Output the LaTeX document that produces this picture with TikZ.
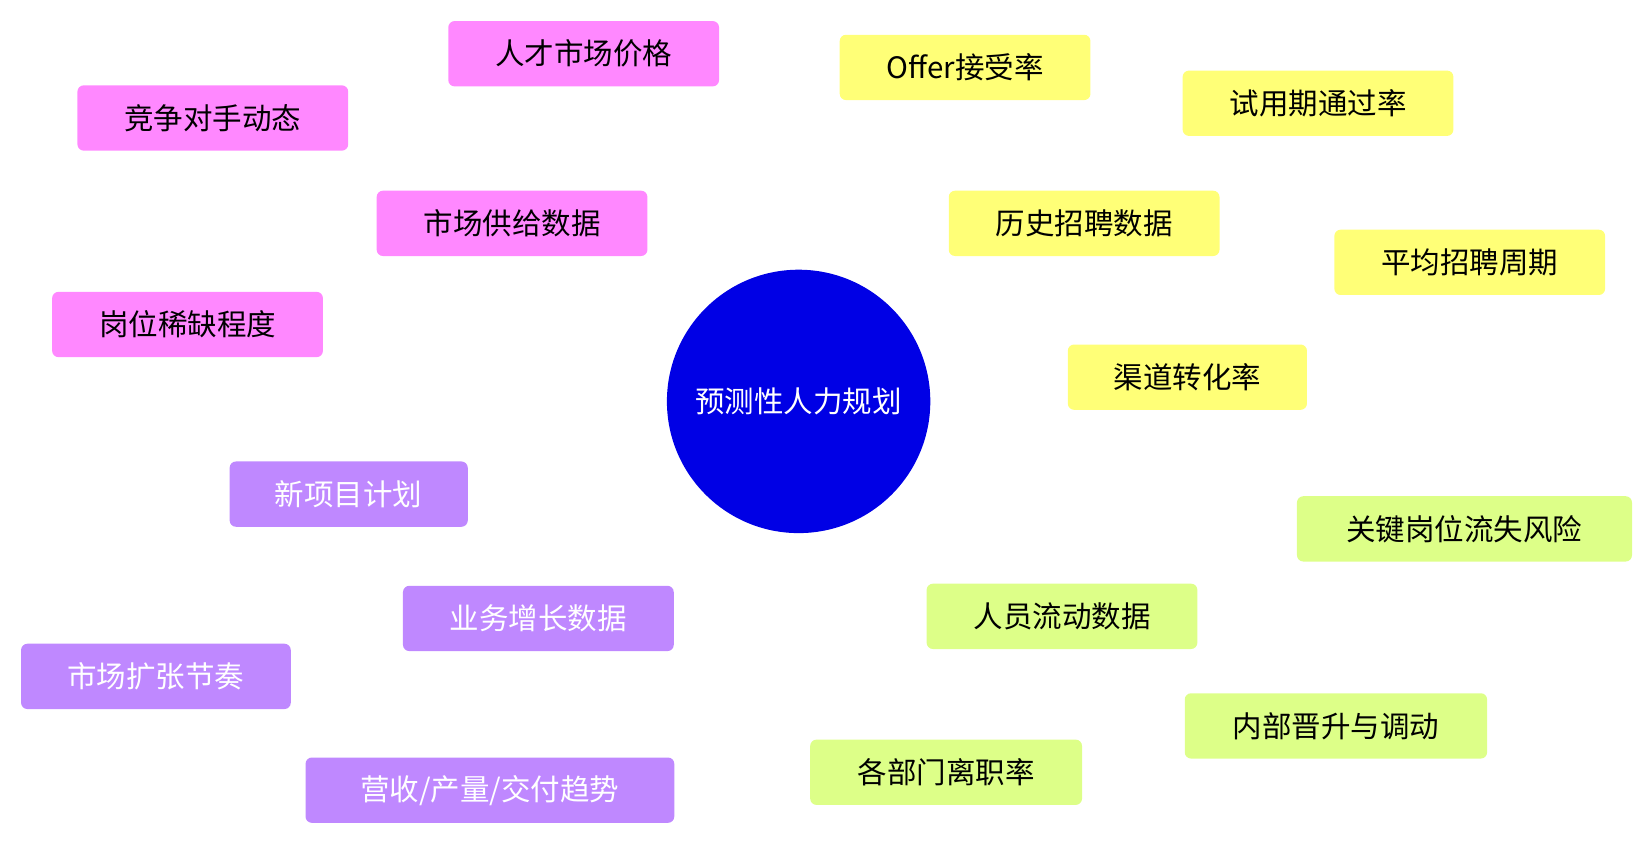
\documentclass[tikz,border=0pt]{standalone}
\usepackage{fontspec}
\setmainfont{Noto Sans CJK SC}
\begin{document}
\begin{tikzpicture}[x=0.5pt,y=-0.5pt,
  bx/.style={rounded corners=3pt,minimum height=31pt,inner sep=0pt,font=\fontsize{14}{16}\selectfont},
  pk/.style={bx,fill=pinkc},
  yl/.style={bx,fill=yelc},
  gr/.style={bx,fill=grc},
  pu/.style={bx,fill=purc,text=white},
]
\definecolor{pinkc}{HTML}{FF88FF}
\definecolor{yelc}{HTML}{FFFF77}
\definecolor{grc}{HTML}{DDFF88}
\definecolor{purc}{HTML}{BF88FF}
\definecolor{ulg}{HTML}{CCFFCC}
\definecolor{ull}{HTML}{AAAAFF}
\definecolor{ulp}{HTML}{D5C0FF}
\definecolor{ulpu}{HTML}{DDFFCC}
\useasboundingbox (0,0) rectangle (1568,801);
% nodes
\node[circle,fill=blue!90!black,minimum size=125pt,text=white,font=\fontsize{14}{16}\selectfont] (c) at (758,381) {预测性人力规划};
\node[pk,minimum width=128.5pt] (m) at (486,212) {市场供给数据};
\node[pk,minimum width=128.5pt] (m1) at (554,51) {人才市场价格};
\node[pk,minimum width=128.5pt] (m2) at (202,112) {竞争对手动态};
\node[pk,minimum width=128.5pt] (m3) at (178,308) {岗位稀缺程度};
\node[yl,minimum width=128.5pt] (h) at (1029,212) {历史招聘数据};
\node[yl,minimum width=119pt] (h1) at (916,64) {Offer接受率};
\node[yl,minimum width=128.5pt] (h2) at (1251,98) {试用期通过率};
\node[yl,minimum width=128.5pt] (h3) at (1395,249) {平均招聘周期};
\node[yl,minimum width=113.5pt] (h4) at (1127,358) {渠道转化率};
\node[gr,minimum width=128.5pt] (p) at (1008,585) {人员流动数据};
\node[gr,minimum width=159pt] (p1) at (1390,502) {关键岗位流失风险};
\node[gr,minimum width=143.5pt] (p2) at (1268,689) {内部晋升与调动};
\node[gr,minimum width=129pt] (p3) at (898,733) {各部门离职率};
\node[pu,minimum width=128.5pt] (b) at (511,587) {业务增长数据};
\node[pu,minimum width=113pt] (b1) at (331,469) {新项目计划};
\node[pu,minimum width=128pt] (b2) at (148,642) {市场扩张节奏};
\node[pu,minimum width=175pt] (b3) at (465,750) {营收/产量/交付趋势};
% edges (behind)
\begin{scope}[on background layer/.style={}]
\end{scope}
\begin{pgfinterruptboundingbox}\end{pgfinterruptboundingbox}
\path (0,0);
\end{tikzpicture}
\end{document}
